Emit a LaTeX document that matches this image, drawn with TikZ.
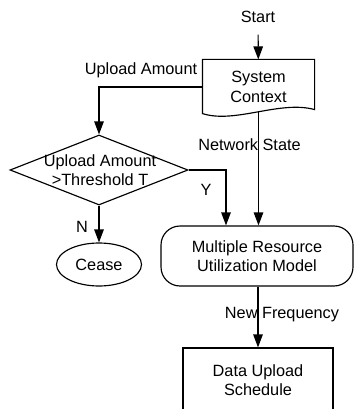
\documentclass[tikz,border=0pt]{standalone}
\usepackage{fontspec}
\setmainfont{Liberation Sans}
\usepackage{tikz}
\usetikzlibrary{arrows.meta,shapes.geometric,calc}
\tikzset{
  flow/.style={-{Triangle[length=13pt,width=9.5pt]}}, % a filled arrow
  block/.style={draw, minimum width=150pt, minimum height=64pt, align=center},
  decide/.style={draw, diamond, minimum width=178pt, minimum height=70pt, inner sep=0pt},
  term/.style={draw, ellipse, minimum width=85pt, minimum height=43pt, inner sep=0pt},
  model/.style={draw, rounded corners=19pt, minimum width=192pt, minimum height=60pt, align=center},
  tag/.style={inner sep=1pt}
}

\begin{document}
\begin{tikzpicture}[x=1pt, y=-1pt, line width=1.15pt,
  font=\fontsize{16.3pt}{19.5pt}\selectfont]
  \useasboundingbox (0,0) rectangle (354,409);

  % Nodes
  \node (start) at (258,17) {Start};
  \node[align=center, minimum width=111pt, minimum height=54pt] (ctx) at (258.5,87) {System\\Context};
  \node[decide] (check) at (99,170) {};
  \node[align=center, inner sep=0pt] (checktext) at (100,170) {Upload Amount\\>Threshold T};
  \node[term] (cease) at (99,264.5) {Cease};
  \node[model] (mrum) at (257,256) {Multiple Resource\\Utilization Model};
  \node[block] (sched) at (258,380) {Data Upload\\Schedule};

  % Document shape
  \draw (ctx.north west) -- (ctx.north east) -- ([yshift=5pt]ctx.south east)
    .. controls (280,100) and (235,124) .. ([yshift=1pt]ctx.south west) -- cycle;

  % Labels
  \node[tag] (lupload) at (141,70) {Upload Amount};
  \node[tag] (lnet) at (249.5,145) {Network State};
  \node[tag] (lyes) at (206,190) {Y};
  \node[tag] (lno) at (82,227) {N};
  \node[tag] (lfreq) at (282,315) {New Frequency};

  % Connect
  \draw[flow, shorten <=8pt] (start) -- (ctx);
  \draw[flow] (ctx.west) -| (check.north);
  \draw[flow] ([yshift=3pt]ctx.south) -- (ctx.south |- mrum.north);
  \draw[flow] (check.east) -| ([xshift=-31pt]mrum.north);
  \draw[flow] (check.south) -- (cease.north);
  \draw[flow] ([xshift=1pt]mrum.south) -- ([xshift=1pt]mrum.south |- sched.north);
\end{tikzpicture}
\end{document}
